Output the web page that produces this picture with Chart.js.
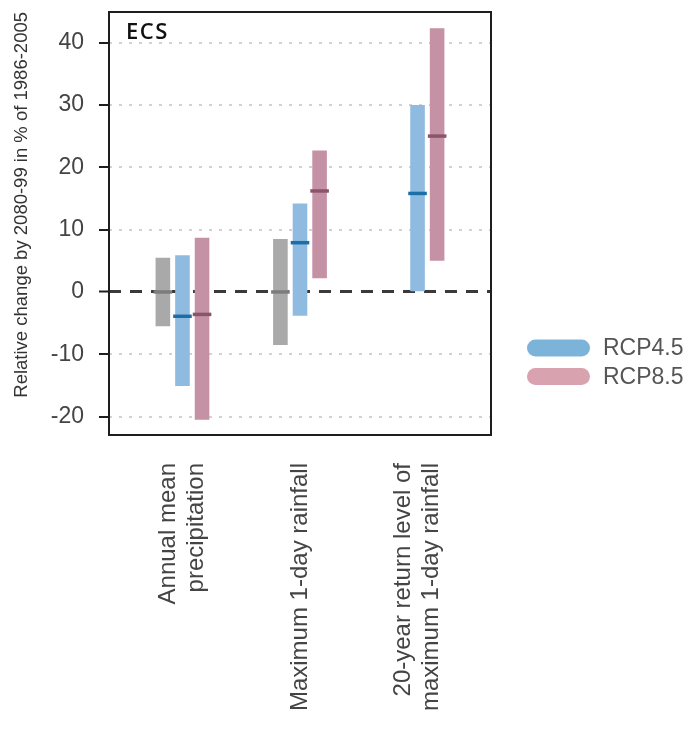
<!DOCTYPE html>
<html>
<head>
<meta charset="utf-8">
<script src="https://cdn.jsdelivr.net/npm/chart.js@4.4.1/dist/chart.umd.min.js"></script>
<style>
  html, body { margin: 0; padding: 0; background: #ffffff; }
</style>
</head>
<body>
<canvas id="chart" width="690" height="729"></canvas>
<script>
// Indicators on the x axis (multi-line labels)
const categories = [
  ["Annual mean", "precipitation"],
  ["Maximum 1-day rainfall"],
  ["20-year return level of", "maximum 1-day rainfall"]
];

// Relative change (%) ranges and medians for each series
const variabilityLow    = [-5.5, -8.5, null];
const variabilityHigh   = [ 5.5,  8.5, null];
const variabilityMedian = [ 0.0,  0.0, null];

const rcp45Low    = [-15.1, -3.8,  0.1];
const rcp45High   = [  5.9, 14.2, 30.0];
const rcp45Median = [ -3.9,  7.9, 15.8];

const rcp85Low    = [-20.5,  2.2,  5.0];
const rcp85High   = [  8.7, 22.7, 42.3];
const rcp85Median = [ -3.6, 16.2, 25.0];

const yTicks = [-20, -10, 0, 10, 20, 30, 40];
const yTitle = "Relative change by 2080-99 in % of 1986-2005";
const panelTitle = "ECS";

function toBars(low, high, median) {
  const out = [];
  low.forEach((lo, i) => {
    if (lo === null || high[i] === null) return;
    out.push({ x: i + 1, y: [lo, high[i]], median: median[i] });
  });
  return out;
}

const datasets = [
  {
    label: "Internal variability",
    data: toBars(variabilityLow, variabilityHigh, variabilityMedian),
    backgroundColor: "#a9a9a9",
    medianColor: "#7c7c7c",
    showInLegend: false
  },
  {
    label: "RCP4.5",
    data: toBars(rcp45Low, rcp45High, rcp45Median),
    backgroundColor: "#8fbbe0",
    medianColor: "#1c6ea6",
    legendColor: "#7cb3d8",
    showInLegend: true
  },
  {
    label: "RCP8.5",
    data: toBars(rcp85Low, rcp85High, rcp85Median),
    backgroundColor: "#c591a5",
    medianColor: "#8a546c",
    legendColor: "#d9a2af",
    showInLegend: true
  }
];

const LABEL_FONT = '24px "Liberation Sans", Arial, sans-serif';
const LABEL_LINE = 28;

const decorations = {
  id: "decorations",
  afterDatasetsDraw(chart) {
    const { ctx } = chart;
    const y = chart.scales.y;
    chart.data.datasets.forEach((ds, di) => {
      const meta = chart.getDatasetMeta(di);
      meta.data.forEach((bar, j) => {
        const raw = ds.data[j];
        const { x, width } = bar.getProps(["x", "width"], true);
        const py = y.getPixelForValue(raw.median);
        const half = width / 2 + 2;
        ctx.save();
        ctx.strokeStyle = ds.medianColor;
        ctx.lineWidth = 3.5;
        ctx.beginPath();
        ctx.moveTo(x - half, py);
        ctx.lineTo(x + half, py);
        ctx.stroke();
        ctx.restore();
      });
    });
  },
  afterDraw(chart) {
    const { ctx, chartArea: a } = chart;
    const xs = chart.scales.x;

    // plot frame
    ctx.save();
    ctx.strokeStyle = "#1e1e1e";
    ctx.lineWidth = 2;
    ctx.strokeRect(a.left, a.top, a.right - a.left, a.bottom - a.top);
    ctx.restore();

    // panel title
    ctx.save();
    ctx.font = '600 22px "Open Sans", sans-serif';
    ctx.letterSpacing = "1.5px";
    ctx.fillStyle = "#111111";
    ctx.textAlign = "left";
    ctx.textBaseline = "middle";
    ctx.fillText(panelTitle, a.left + 17, a.top + 21);
    ctx.restore();

    // rotated category labels, each block centred on its group
    ctx.save();
    ctx.font = LABEL_FONT;
    ctx.fillStyle = "#444444";
    ctx.textAlign = "right";
    ctx.textBaseline = "middle";
    categories.forEach((lines, i) => {
      const px = xs.getPixelForValue(i + 1);
      const n = lines.length;
      lines.forEach((line, k) => {
        const cx = px + (k - (n - 1) / 2) * LABEL_LINE;
        ctx.save();
        ctx.translate(cx, a.bottom + 28);
        ctx.rotate(-Math.PI / 2);
        ctx.fillText(line, 0, 0);
        ctx.restore();
      });
    });
    ctx.restore();

    // legend
    ctx.save();
    const legendItems = chart.data.datasets.filter(d => d.showInLegend);
    const boxLeft = a.right + 36;
    const firstY = a.top + 336;
    const rowGap = 28.5;
    ctx.font = '23px "Liberation Sans", Arial, sans-serif';
    ctx.textAlign = "left";
    ctx.textBaseline = "middle";
    legendItems.forEach((d, k) => {
      const cy = firstY + k * rowGap;
      ctx.fillStyle = d.legendColor;
      ctx.beginPath();
      ctx.roundRect(boxLeft, cy - 8.5, 63, 17, 8.5);
      ctx.fill();
      ctx.fillStyle = "#555555";
      ctx.fillText(d.label, boxLeft + 76, cy + 1);
    });
    ctx.restore();
  }
};

new Chart(document.getElementById("chart"), {
  type: "bar",
  data: { datasets },
  options: {
    responsive: false,
    animation: false,
    layout: { padding: { left: 0, top: 12, right: 199, bottom: 0 } },
    datasets: {
      bar: {
        grouped: true,
        categoryPercentage: 0.5,
        barPercentage: 0.745,
        borderWidth: 0,
        borderSkipped: false
      }
    },
    plugins: {
      legend: { display: false },
      tooltip: { enabled: false }
    },
    scales: {
      x: {
        type: "linear",
        offset: false,
        min: 0.375,
        max: 3.625,
        afterBuildTicks(scale) {
          scale.ticks = categories.map((c, i) => ({ value: i + 1 }));
        },
        afterFit(scale) {
          scale.height = 294;
          scale.paddingLeft = 0;
          scale.paddingRight = 0;
        },
        ticks: { display: false },
        grid: { display: false, offset: false },
        border: { display: false }
      },
      y: {
        type: "linear",
        min: -22.94,
        max: 44.9,
        afterBuildTicks(scale) {
          scale.ticks = yTicks.map(v => ({ value: v }));
        },
        afterFit(scale) {
          scale.width = 109;
          scale.paddingTop = 0;
          scale.paddingBottom = 0;
        },
        ticks: {
          padding: 15,
          color: "#444444",
          font: { family: '"Liberation Sans", Arial, sans-serif', size: 23 },
          callback: v => String(v)
        },
        grid: {
          drawTicks: true,
          tickLength: 10,
          tickWidth: 2,
          tickColor: "#1e1e1e",
          color: ctx => (ctx.tick && ctx.tick.value === 0 ? "#3a3a3a" : "#d2d2d2"),
          lineWidth: ctx => (ctx.tick && ctx.tick.value === 0 ? 3 : 2)
        },
        border: {
          display: false,
          dash: ctx => (ctx.type === "tick" ? (ctx.tick.value === 0 ? [12, 9] : [3, 7]) : [])
        },
        title: {
          display: true,
          text: yTitle,
          align: "end",
          color: "#333333",
          font: { family: '"Liberation Sans", Arial, sans-serif', size: 18.5 },
          padding: { top: 11, bottom: 0 }
        }
      }
    }
  },
  plugins: [decorations]
});
</script>
</body>
</html>
